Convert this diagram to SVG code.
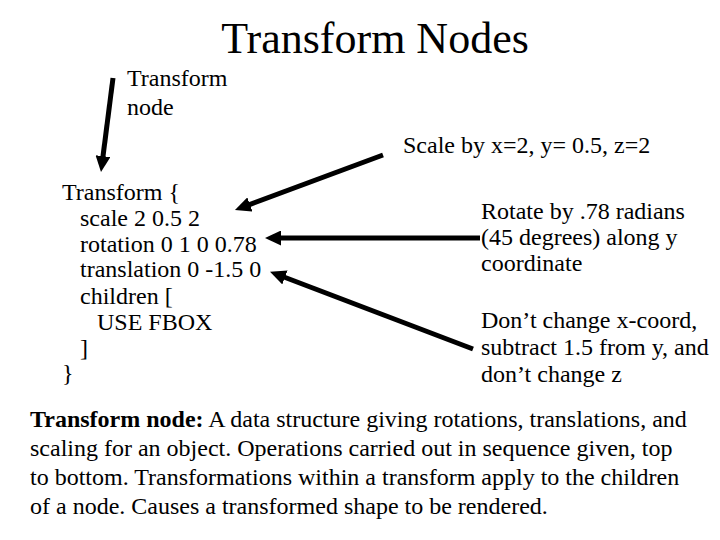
<svg xmlns="http://www.w3.org/2000/svg" width="720" height="540" viewBox="0 0 720 540">
<style>
text{font-family:"Liberation Serif","Times New Roman",serif;fill:#000;font-size:24px}
.title{font-size:44px}
.b{font-weight:bold}
.arr{stroke:#000;stroke-width:5;fill:none}
</style>
<defs>
<marker id="ah" markerWidth="3.2" markerHeight="3" refX="0.5" refY="1.5" orient="auto" markerUnits="strokeWidth">
<path d="M0,0 L3.2,1.5 L0,3 Z" fill="#000"/>
</marker>
</defs>
<rect width="720" height="540" fill="#fff"/>
<text class="title" x="375" y="53" text-anchor="middle">Transform Nodes</text>
<g id="label-transform-node">
<text x="127" y="86">Transform</text>
<text x="127" y="115">node</text>
</g>
<g id="label-scale">
<text x="403" y="153">Scale by x=2, y= 0.5, z=2</text>
</g>
<g id="code">
<text x="62" y="200">Transform {</text>
<text x="80" y="226">scale 2 0.5 2</text>
<text x="80" y="252">rotation 0 1 0 0.78</text>
<text x="80" y="277">translation 0 -1.5 0</text>
<text x="80" y="304">children [</text>
<text x="97" y="330">USE FBOX</text>
<text x="80" y="356">]</text>
<text x="62" y="381">}</text>
</g>
<g id="label-rotate">
<text x="481" y="219">Rotate by .78 radians</text>
<text x="481" y="245">(45 degrees) along y</text>
<text x="481" y="271">coordinate</text>
</g>
<g id="label-translate">
<text x="481" y="328">Don’t change x-coord,</text>
<text x="481" y="355">subtract 1.5 from y, and</text>
<text x="481" y="382">don’t change z</text>
</g>
<g id="description">
<text x="30" y="427"><tspan class="b">Transform node:</tspan> A data structure giving rotations, translations, and</text>
<text x="30" y="456">scaling for an object. Operations carried out in sequence given, top</text>
<text x="30" y="485">to bottom. Transformations within a transform apply to the children</text>
<text x="30" y="514">of a node. Causes a transformed shape to be rendered.</text>
</g>
<g id="connectors">
<path class="arr" d="M113,78 L102.7,158.6" marker-end="url(#ah)"/>
<path class="arr" d="M383,155 L247.6,205.3" marker-end="url(#ah)"/>
<path class="arr" d="M480,238 L278.5,238" marker-end="url(#ah)"/>
<path class="arr" d="M473,349 L282.6,276.5" marker-end="url(#ah)"/>
</g>
</svg>
